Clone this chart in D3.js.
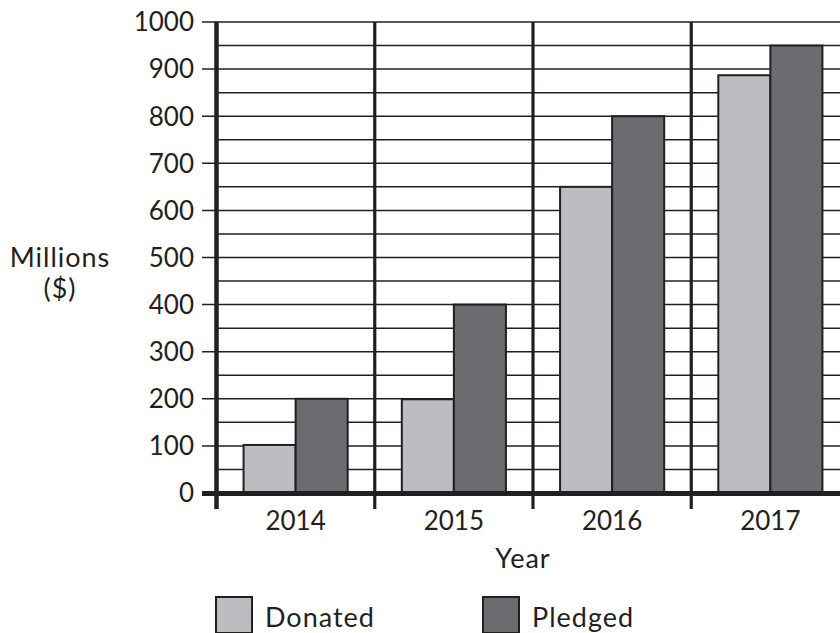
<!DOCTYPE html>
<html>
<head>
<meta charset="utf-8">
<script src="https://cdn.jsdelivr.net/npm/d3@7"></script>
<style>
  html, body { margin: 0; padding: 0; background: #fff; }
  svg { display: block; }
  text { font-family: Lato, "Open Sans", sans-serif; fill: #231f20; }
  .word { letter-spacing: 1px; }
</style>
</head>
<body>
<div id="chart"></div>
<script>
const years = ["2014", "2015", "2016", "2017"];
const series = ["Donated", "Pledged"];
const donated = [102, 199, 650, 887];
const pledged = [200, 400, 800, 950];
const yTicks = [0, 100, 200, 300, 400, 500, 600, 700, 800, 900, 1000];
const yMinor = [50, 150, 250, 350, 450, 550, 650, 750, 850, 950];
const colors = { Donated: "#bcbdc1", Pledged: "#6b6c70" };
const ink = "#231f20";

(function () {
const W = 840, H = 633;
const svg = d3.select("#chart").append("svg").attr("width", W).attr("height", H);

const pLeft = 216.5, pRight = 849.5, pTop = 22, pBottom = 493;
const x = d3.scaleBand().domain(years).range([pLeft, pRight]).paddingInner(0).paddingOuter(0);
const x1 = d3.scaleBand().domain(series).range([0, x.bandwidth()]).paddingInner(0).paddingOuter(0.52);
const y = d3.scaleLinear().domain([0, 1000]).range([pBottom, pTop]);

const data = years.map((yr, i) => ({ year: yr, Donated: donated[i], Pledged: pledged[i] }));

// minor gridlines
svg.append("g").selectAll("line").data(yMinor).join("line")
  .attr("x1", pLeft).attr("x2", W).attr("y1", d => y(d)).attr("y2", d => y(d))
  .attr("stroke", ink).attr("stroke-width", 1.5);

// major gridlines with ticks
svg.append("g").selectAll("line").data(yTicks.filter(d => d > 0)).join("line")
  .attr("x1", 202).attr("x2", W).attr("y1", d => y(d)).attr("y2", d => y(d))
  .attr("stroke", ink).attr("stroke-width", 1.5);

// y tick labels
svg.append("g").selectAll("text").data(yTicks).join("text")
  .attr("x", 194).attr("y", d => y(d)).attr("dy", "0.36em")
  .attr("text-anchor", "end").attr("font-size", 26)
  .text(d => d);

// bars
const groups = svg.append("g").selectAll("g").data(data).join("g")
  .attr("transform", d => `translate(${x(d.year)},0)`);
groups.selectAll("rect").data(d => series.map(k => ({ key: k, value: d[k] }))).join("rect")
  .attr("x", d => x1(d.key)).attr("width", x1.bandwidth())
  .attr("y", d => y(d.value)).attr("height", d => y(0) - y(d.value))
  .attr("fill", d => colors[d.key]).attr("stroke", ink).attr("stroke-width", 2);

// vertical dividers
svg.append("g").selectAll("line").data(years.slice(1)).join("line")
  .attr("x1", d => x(d)).attr("x2", d => x(d)).attr("y1", pTop).attr("y2", 509)
  .attr("stroke", ink).attr("stroke-width", 3.2);

// left axis
svg.append("line").attr("x1", pLeft).attr("x2", pLeft).attr("y1", pTop - 0.5).attr("y2", 509)
  .attr("stroke", ink).attr("stroke-width", 4.5);
// zero baseline
svg.append("line").attr("x1", 202).attr("x2", W).attr("y1", y(0) + 0.5).attr("y2", y(0) + 0.5)
  .attr("stroke", ink).attr("stroke-width", 5);

// x labels
svg.append("g").selectAll("text").data(years).join("text")
  .attr("x", d => x(d) + x.bandwidth() / 2).attr("y", 530)
  .attr("text-anchor", "middle").attr("font-size", 26)
  .text(d => d);

// axis titles
svg.append("text").attr("class", "word").attr("x", 523).attr("y", 568).attr("text-anchor", "middle")
  .attr("font-size", 27).text("Year");
svg.append("text").attr("class", "word").attr("x", 60).attr("y", 267).attr("text-anchor", "middle")
  .attr("font-size", 27).text("Millions");
svg.append("text").attr("class", "word").attr("x", 60).attr("y", 298).attr("text-anchor", "middle")
  .attr("font-size", 27).text("($)");

// legend
const legendX = [216, 483];
const lg = svg.append("g").selectAll("g").data(series).join("g")
  .attr("transform", (d, i) => `translate(${legendX[i]},597)`);
lg.append("rect").attr("width", 36).attr("height", 36)
  .attr("fill", d => colors[d]).attr("stroke", ink).attr("stroke-width", 2);
lg.append("text").attr("class", "word").attr("x", 49).attr("y", 30).attr("font-size", 27).text(d => d);
})();
</script>
</body>
</html>
